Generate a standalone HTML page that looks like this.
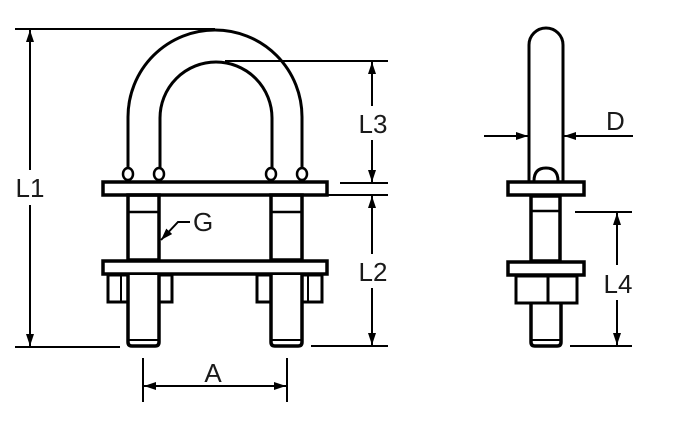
<!DOCTYPE html>
<html><head><meta charset="utf-8"><style>
html,body{margin:0;padding:0;background:#fff;width:676px;height:428px;overflow:hidden}
text{font-family:"Liberation Sans",sans-serif;font-size:26px;fill:#1a1a1a}
</style></head><body>
<svg width="676" height="428" viewBox="0 0 676 428" xmlns="http://www.w3.org/2000/svg">
<defs>
<marker id="a" viewBox="0 0 12 8" refX="12" refY="4" markerWidth="12" markerHeight="8" markerUnits="userSpaceOnUse" orient="auto"><path d="M0,0 L12,4 L0,8 Z" fill="#000"/></marker>
</defs>
<g stroke="#000" fill="none">
<path d="M128,172 L128,117 A87,87 0 0 1 302,117 L302,172" stroke-width="3"/>
<path d="M160,172 L160,118 A56,56 0 0 1 272,118 L272,172" stroke-width="3"/>
<ellipse cx="128" cy="174" rx="5" ry="6" stroke-width="2.5" fill="#fff"/>
<ellipse cx="159" cy="174" rx="5" ry="6" stroke-width="2.5" fill="#fff"/>
<ellipse cx="271" cy="174" rx="5" ry="6" stroke-width="2.5" fill="#fff"/>
<ellipse cx="302" cy="174" rx="5" ry="6" stroke-width="2.5" fill="#fff"/>
<rect x="103" y="182" width="224" height="13" stroke-width="3.5" fill="#fff"/>
<rect x="128" y="195" width="31" height="65" stroke-width="3.5"/>
<rect x="271" y="195" width="31" height="65" stroke-width="3.5"/>
<line x1="128" y1="212" x2="159" y2="212" stroke-width="2.5"/>
<line x1="271" y1="212" x2="302" y2="212" stroke-width="2.5"/>
<rect x="103" y="261" width="224" height="13" stroke-width="3.5" fill="#fff"/>
<rect x="108" y="275" width="64" height="27" stroke-width="3"/>
<rect x="257" y="275" width="65" height="27" stroke-width="3"/>
<line x1="121" y1="275" x2="121" y2="302" stroke-width="2"/>
<line x1="308" y1="275" x2="308" y2="302" stroke-width="2"/>
<path d="M128,275 L128,342 Q128,346 132,346 L155,346 Q159,346 159,342 L159,275" stroke-width="3.5" fill="#fff"/>
<path d="M271,275 L271,342 Q271,346 275,346 L298,346 Q302,346 302,342 L302,275" stroke-width="3.5" fill="#fff"/>
<line x1="128" y1="340" x2="159" y2="340" stroke-width="2"/>
<line x1="271" y1="340" x2="302" y2="340" stroke-width="2"/>

<line x1="15" y1="29" x2="215" y2="29" stroke-width="2"/>
<line x1="15" y1="347" x2="120" y2="347" stroke-width="2"/>
<line x1="30" y1="170" x2="30" y2="30" stroke-width="2" marker-end="url(#a)"/>
<line x1="30" y1="205" x2="30" y2="346" stroke-width="2" marker-end="url(#a)"/>
<line x1="225" y1="61" x2="388" y2="61" stroke-width="2"/>
<line x1="340" y1="183" x2="388" y2="183" stroke-width="2"/>
<line x1="328" y1="195" x2="388" y2="195" stroke-width="2"/>
<line x1="311" y1="346" x2="388" y2="346" stroke-width="2"/>
<line x1="372" y1="108" x2="372" y2="62" stroke-width="2" marker-end="url(#a)"/>
<line x1="372" y1="140" x2="372" y2="182" stroke-width="2" marker-end="url(#a)"/>
<line x1="372" y1="255" x2="372" y2="196" stroke-width="2" marker-end="url(#a)"/>
<line x1="372" y1="288" x2="372" y2="345" stroke-width="2" marker-end="url(#a)"/>
<line x1="143" y1="358" x2="143" y2="402" stroke-width="2"/>
<line x1="287" y1="358" x2="287" y2="402" stroke-width="2"/>
<line x1="215" y1="386" x2="144" y2="386" stroke-width="2" marker-end="url(#a)"/>
<line x1="215" y1="386" x2="286" y2="386" stroke-width="2" marker-end="url(#a)"/>
<polyline points="190,222 178,222 161,240" stroke-width="2" marker-end="url(#a)"/>

<path d="M529,181 L529,45 A17,17 0 0 1 563,45 L563,181" stroke-width="3"/>
<path d="M534,181 Q534,168 546,168 Q558,168 558,181" stroke-width="3"/>
<rect x="508" y="182" width="76" height="13" stroke-width="3.5" fill="#fff"/>
<rect x="531" y="196" width="29" height="65" stroke-width="3.5"/>
<line x1="531" y1="211" x2="560" y2="211" stroke-width="2.5"/>
<rect x="508" y="262" width="76" height="13" stroke-width="3.5" fill="#fff"/>
<rect x="516" y="276" width="61" height="27" stroke-width="3"/>
<line x1="548" y1="276" x2="548" y2="303" stroke-width="3"/>
<path d="M531,303 L531,342 Q531,346 535,346 L557,346 Q561,346 561,342 L561,303" stroke-width="3.5"/>
<line x1="531" y1="340" x2="561" y2="340" stroke-width="2"/>
<line x1="484" y1="136" x2="528" y2="136" stroke-width="2" marker-end="url(#a)"/>
<line x1="633" y1="136" x2="564" y2="136" stroke-width="2" marker-end="url(#a)"/>
<line x1="575" y1="212" x2="632" y2="212" stroke-width="2"/>
<line x1="570" y1="346" x2="632" y2="346" stroke-width="2"/>
<line x1="617" y1="265" x2="617" y2="213" stroke-width="2" marker-end="url(#a)"/>
<line x1="617" y1="300" x2="617" y2="345" stroke-width="2" marker-end="url(#a)"/>
</g>
<rect x="15" y="172" width="30" height="32" fill="#fff"/>
<text x="30" y="197" text-anchor="middle">L1</text>
<rect x="356" y="106" width="34" height="34" fill="#fff"/>
<text x="373" y="133" text-anchor="middle">L3</text>
<rect x="356" y="254" width="34" height="34" fill="#fff"/>
<text x="373" y="281" text-anchor="middle">L2</text>
<text x="213" y="382" text-anchor="middle">A</text>
<text x="193" y="231">G</text>
<text x="606" y="130">D</text>
<rect x="601" y="266" width="34" height="34" fill="#fff"/>
<text x="618" y="293" text-anchor="middle">L4</text>
</svg>
</body></html>
